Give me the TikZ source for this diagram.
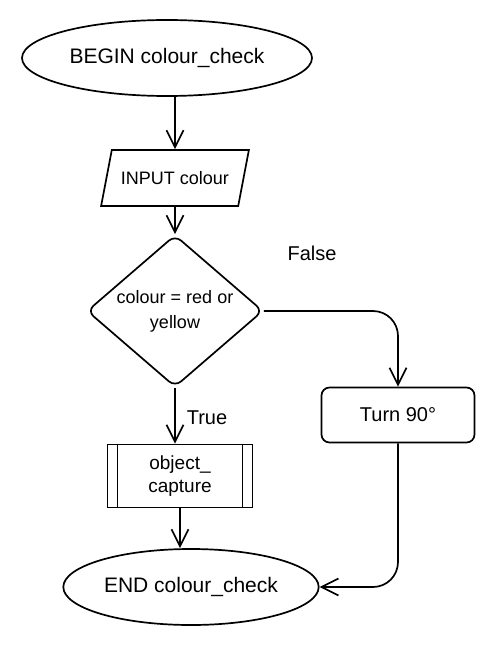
\documentclass[tikz,border=0pt]{standalone}
\usepackage{fontspec}
\setmainfont{Liberation Sans}
\usetikzlibrary{shapes.geometric,arrows.meta}

\begin{document}
\begin{tikzpicture}[x=1pt,y=-1pt,line width=1.7pt,
        >={Straight Barb[length=17pt,width=17pt]},
        every node/.style={font=\fontsize{20}{24}\selectfont},
        terminal/.style={draw,ellipse,minimum height=76pt,font=\fontsize{21}{25}\selectfont}]
                \useasboundingbox (0,0) rectangle (503,650);
                % Draw the start and end of the flow
                \node[terminal,minimum width=290pt] (begin) at (167,58) {BEGIN colour\_check};
                \node[terminal,minimum width=252pt] (end) at (191,587) {END colour\_check};
                % The input and the test on the colour
                \node[draw,trapezium,trapezium stretches=true,trapezium left angle=64,trapezium right angle=116,
                    minimum width=148pt,minimum height=56pt,font=\fontsize{18}{22}\selectfont] (input) at (175,178) {INPUT colour};
                \node[draw,diamond,rounded corners=8pt,minimum width=176pt,minimum height=152pt,inner sep=0pt] (test) at (175,311) {};
                \node[align=center,font=\fontsize{18}{25}\selectfont] at (test) {colour = red or\\yellow};
                % The two branches
                \node[draw,rounded corners=8pt,minimum width=153pt,minimum height=55pt] (turn) at (398,415) {Turn 90°};
                \node[draw,minimum width=145pt,minimum height=63pt,align=center,font=\fontsize{19}{23}\selectfont] (capture) at (180,476) {object\_\\capture};
                \draw[line width=1.2pt] ([xshift=11pt]capture.north west) -- ([xshift=11pt]capture.south west);
                \draw[line width=1.2pt] ([xshift=-11pt]capture.north east) -- ([xshift=-11pt]capture.south east);
                % Connect the steps
                \draw[->] (input.north |- begin.south) -- (input.north);
                \draw[->] (input.south) -- (test.north);
                \draw[->] (test.south) -- (test.south |- capture.north);
                \draw[->] (capture.south) -- (capture.south |- end.north);
                \draw[->,rounded corners=25pt] (test.east) -| (turn.north);
                \draw[->,rounded corners=25pt] (turn.south) |- (end.east);
                % Labels of the branches
                \node at (312,253) {False};
                \node at (207,418) {True};
            \end{tikzpicture}
\end{document}
